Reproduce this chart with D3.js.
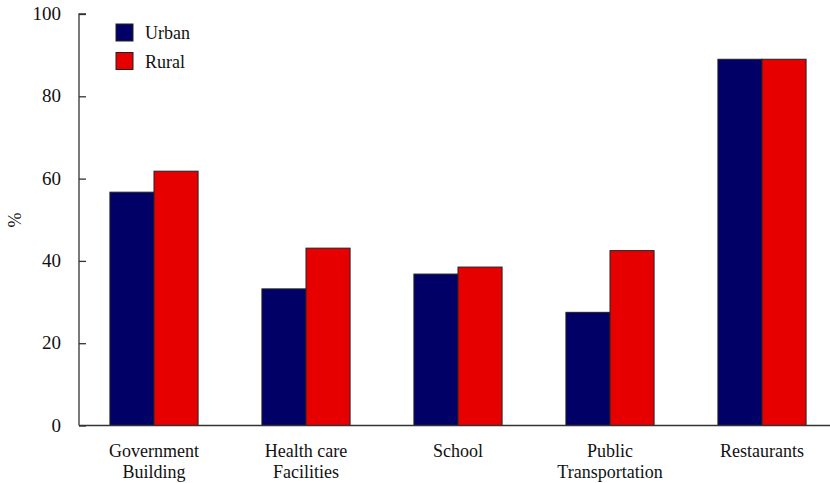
<!DOCTYPE html>
<html><head><meta charset="utf-8">
<script src="https://cdn.jsdelivr.net/npm/d3@7"></script>
</head><body style="margin:0;background:#fff"><svg id="c" width="830" height="483" style="display:block"></svg>
<script>
const categories = [["Government","Building"],["Health care","Facilities"],["School"],["Public","Transportation"],["Restaurants"]];
const seriesNames = ["Urban","Rural"];
const urban = [56.7, 33.2, 36.8, 27.5, 89.0];
const rural = [61.8, 43.1, 38.5, 42.5, 89.0];
const yTicks = [0,20,40,60,80,100];
const colors = ["#000066","#e60000"];

const FONT = '"Liberation Serif"';
const svg = d3.select("#c");
const x0 = 79, x1 = 839, yb = 425.5, yt = 14;
const x = d3.scaleBand().domain(d3.range(categories.length)).range([x0-1,x1-1]).padding(0);
const y = d3.scaleLinear().domain([0,100]).range([yb,yt]);
const bw = x.step()*0.29;
const txt = "#111";
function T(sel){ return sel.style("font-family",FONT,"important").attr("fill",txt); }

const series = [urban, rural];
series.forEach((vals,si)=>{
  svg.append("g").selectAll("rect").data(vals).join("rect")
    .attr("x",(d,i)=>x(i)+x.bandwidth()/2 + (si-1)*bw)
    .attr("y",d=>y(d))
    .attr("width",bw)
    .attr("height",d=>y(0)-y(d))
    .attr("fill",colors[si])
    .attr("stroke","#222").attr("stroke-width",1);
});

const ya = svg.append("g").attr("transform",`translate(${x0},0)`)
  .call(d3.axisRight(y).tickValues(yTicks).tickSize(7).tickFormat(""));
ya.attr("font-family",null).attr("font-size",null);
ya.select(".domain").attr("stroke","#333").attr("stroke-width",1.3).attr("d",`M7,${yt}H0V${yb}`);
ya.selectAll(".tick line").attr("stroke","#333").attr("stroke-width",1.3);
ya.selectAll(".tick text").remove();
T(svg.append("g").selectAll("text").data(yTicks).join("text")
  .attr("x",61).attr("y",d=>y(d)+6).attr("text-anchor","end").attr("font-size",19).text(d=>d));

svg.append("line").attr("x1",x0).attr("x2",830).attr("y1",yb).attr("y2",yb).attr("stroke","#333").attr("stroke-width",1.3);

categories.forEach((lines,i)=>{
  lines.forEach((l,j)=>{
    T(svg.append("text").attr("text-anchor","middle").attr("font-size",18)
      .attr("x",x(i)+x.bandwidth()/2).attr("y",457+j*21).text(l));
  });
});

T(svg.append("text").attr("transform","translate(21,220) rotate(-90)").attr("text-anchor","middle").attr("font-size",18).text("%"));

seriesNames.forEach((n,i)=>{
  svg.append("rect").attr("x",116).attr("y",24+i*28.5).attr("width",17).attr("height",17).attr("fill",colors[i]).attr("stroke","#222");
  T(svg.append("text").attr("x",145).attr("y",39+i*28.5).attr("font-size",18).text(n));
});
</script></body></html>
